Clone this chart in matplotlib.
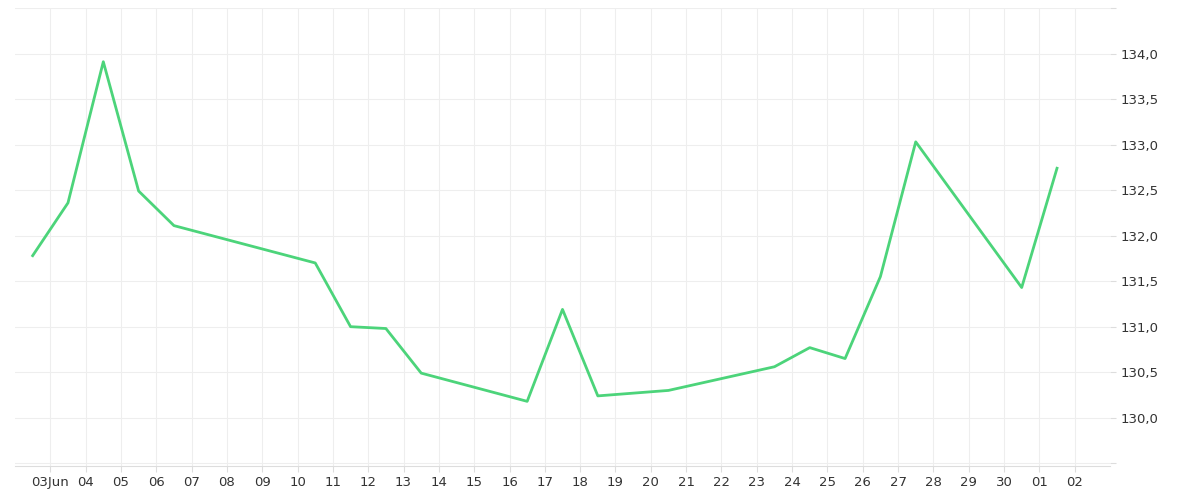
import matplotlib
matplotlib.use("Agg")
import matplotlib.pyplot as plt
import matplotlib.dates as mdates
import numpy as np
import datetime as dt

dates = ["2024-06-02 12:00","2024-06-03 12:00","2024-06-04 12:00","2024-06-05 12:00","2024-06-06 12:00",
         "2024-06-10 12:00","2024-06-11 12:00","2024-06-12 12:00","2024-06-13 12:00","2024-06-16 12:00",
         "2024-06-17 12:00","2024-06-18 12:00","2024-06-20 12:00","2024-06-23 12:00","2024-06-24 12:00",
         "2024-06-25 12:00","2024-06-26 12:00","2024-06-27 12:00","2024-06-30 12:00","2024-07-01 12:00"]
values = [131.78,132.36,133.91,132.49,132.11,131.70,131.00,130.98,130.49,130.18,
          131.19,130.24,130.30,130.56,130.77,130.65,131.55,133.03,131.43,132.74]
y_ticks = [130.0,130.5,131.0,131.5,132.0,132.5,133.0,133.5,134.0]

x = [dt.datetime.strptime(d, "%Y-%m-%d %H:%M") for d in dates]
fig = plt.figure(figsize=(12,5), dpi=100)
ax = fig.add_axes([15/1200, 34/500, 1095/1200, 458/500])
ax.plot(x, values, color="#4cd47a", lw=2)
ax.set_xlim(dt.datetime(2024,6,2,0), dt.datetime(2024,7,3,0))
ax.set_ylim(129.47, 134.5)
ticks = [dt.datetime(2024,6,3)+dt.timedelta(days=i) for i in range(30)]
ax.set_xticks(ticks)
ax.set_xticklabels(["03Jun"]+[t.strftime("%d") for t in ticks[1:]])
ax.set_yticks(np.arange(129.5,134.6,0.5), minor=False)
ax.set_yticklabels(["" if v not in y_ticks else f"{v:.1f}".replace(".",",") for v in np.round(np.arange(129.5,134.6,0.5),1)])
ax.yaxis.tick_right()
ax.grid(True, color="#eeeeee", lw=0.8)
for s in ["top","left","right"]:
    ax.spines[s].set_visible(False)
ax.spines["bottom"].set_color("#dddddd")
ax.tick_params(colors="#333333", labelsize=9.5, length=4)
ax.tick_params(axis="x", color="#dddddd")
ax.tick_params(axis="y", color="#dddddd")
fig.savefig("out.png")
